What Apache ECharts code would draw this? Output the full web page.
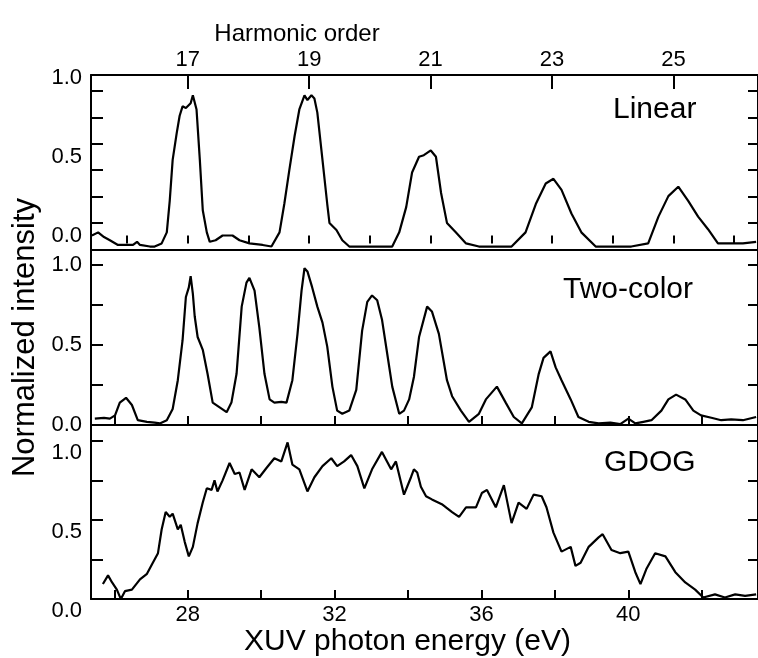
<!DOCTYPE html>
<html><head><meta charset="utf-8">
<script src="https://cdn.jsdelivr.net/npm/echarts@6/dist/echarts.min.js"></script>
<style>html,body{margin:0;padding:0;background:#fff}#c{width:758px;height:658px}</style>
</head><body><div id="c"></div><script>
// ---- data ----
const energyLinear = [25.39,25.56,25.72,25.88,26.10,26.29,26.51,26.62,26.70,26.97,27.10,27.29,27.43,27.51,27.59,27.70,27.78,27.86,27.95,28.00,28.08,28.14,28.24,28.33,28.41,28.52,28.60,28.76,28.95,29.10,29.22,29.41,29.68,30.04,30.28,30.50,30.63,30.77,30.91,31.04,31.18,31.26,31.37,31.45,31.53,31.67,31.80,31.86,32.05,32.21,32.40,32.75,33.16,33.57,33.76,33.95,34.11,34.30,34.43,34.62,34.76,34.90,35.06,35.30,35.58,35.93,36.39,36.82,37.20,37.48,37.75,37.96,38.18,38.45,38.72,39.11,39.59,40.08,40.54,40.82,41.09,41.36,41.63,41.90,42.17,42.44,42.80,43.12,43.48];
const valuesLinear = [0.00,0.02,-0.01,-0.03,-0.06,-0.06,-0.06,-0.04,-0.06,-0.07,-0.07,-0.05,0.02,0.22,0.48,0.65,0.76,0.82,0.81,0.80,0.84,0.89,0.80,0.48,0.16,0.02,-0.04,-0.03,0.00,0.00,0.00,-0.03,-0.05,-0.06,-0.07,0.02,0.20,0.42,0.63,0.80,0.89,0.86,0.89,0.87,0.78,0.48,0.20,0.08,0.035,-0.03,-0.07,-0.07,-0.07,-0.07,0.02,0.18,0.40,0.50,0.51,0.54,0.50,0.27,0.08,0.02,-0.05,-0.07,-0.07,-0.07,0.02,0.20,0.33,0.36,0.29,0.14,0.02,-0.07,-0.07,-0.07,-0.05,0.12,0.25,0.31,0.22,0.12,0.04,-0.05,-0.05,-0.05,-0.04];

const energyTwoColor = [25.47,25.72,25.88,26.02,26.15,26.32,26.48,26.64,26.89,27.10,27.24,27.43,27.59,27.73,27.86,27.95,28.03,28.08,28.14,28.19,28.27,28.41,28.54,28.68,28.87,29.06,29.19,29.33,29.47,29.60,29.68,29.82,29.95,30.09,30.23,30.36,30.55,30.69,30.85,30.99,31.10,31.18,31.26,31.39,31.53,31.67,31.80,31.94,32.07,32.21,32.40,32.59,32.75,32.89,33.02,33.16,33.29,33.43,33.57,33.76,33.89,34.03,34.16,34.30,34.52,34.65,34.84,35.06,35.20,35.44,35.66,35.93,36.12,36.42,36.66,36.88,37.10,37.37,37.56,37.69,37.88,38.02,38.18,38.43,38.64,38.92,39.19,39.51,39.78,40.00,40.19,40.41,40.63,40.90,41.09,41.30,41.55,41.77,41.98,42.26,42.53,42.80,43.12,43.48];
const valuesTwoColor = [0.04,0.045,0.04,0.06,0.14,0.17,0.125,0.03,0.02,0.015,0.01,0.03,0.10,0.28,0.53,0.80,0.86,0.93,0.82,0.68,0.55,0.47,0.32,0.14,0.11,0.08,0.14,0.32,0.74,0.89,0.92,0.84,0.61,0.32,0.16,0.14,0.145,0.14,0.28,0.57,0.84,0.98,0.96,0.86,0.74,0.64,0.49,0.24,0.09,0.07,0.09,0.22,0.59,0.77,0.81,0.78,0.66,0.45,0.24,0.07,0.09,0.16,0.30,0.55,0.74,0.71,0.57,0.28,0.18,0.09,0.02,0.07,0.16,0.24,0.14,0.05,0.01,0.11,0.32,0.42,0.46,0.36,0.28,0.16,0.05,0.02,0.01,0.015,0.005,0.04,0.01,0.02,0.03,0.09,0.16,0.19,0.16,0.09,0.06,0.045,0.03,0.035,0.03,0.05];

const energyGDOG = [25.69,25.83,25.94,26.07,26.18,26.29,26.48,26.70,26.89,27.05,27.19,27.29,27.40,27.51,27.59,27.73,27.81,27.92,28.03,28.14,28.27,28.41,28.52,28.65,28.73,28.81,28.95,29.14,29.28,29.41,29.55,29.74,29.95,30.15,30.36,30.55,30.72,30.85,31.04,31.26,31.45,31.67,31.91,32.07,32.26,32.45,32.62,32.81,33.02,33.29,33.54,33.67,33.89,34.08,34.16,34.25,34.35,34.49,34.65,34.92,35.20,35.39,35.58,35.85,36.01,36.15,36.39,36.61,36.82,37.01,37.23,37.42,37.64,37.77,37.96,38.18,38.43,38.56,38.70,38.92,39.19,39.30,39.54,39.78,40.00,40.19,40.33,40.49,40.73,41.01,41.28,41.55,41.82,42.04,42.36,42.63,42.91,43.18,43.48];
const valuesGDOG = [0.095,0.15,0.105,0.06,0.00,0.05,0.06,0.125,0.16,0.23,0.29,0.44,0.55,0.52,0.54,0.44,0.47,0.36,0.27,0.33,0.48,0.61,0.70,0.69,0.75,0.68,0.75,0.86,0.79,0.80,0.69,0.82,0.77,0.83,0.89,0.87,0.99,0.85,0.82,0.68,0.77,0.84,0.89,0.84,0.87,0.91,0.84,0.70,0.82,0.93,0.82,0.87,0.66,0.77,0.82,0.80,0.71,0.65,0.63,0.60,0.55,0.52,0.58,0.58,0.67,0.69,0.58,0.72,0.48,0.61,0.57,0.66,0.65,0.58,0.42,0.30,0.33,0.21,0.23,0.33,0.39,0.41,0.31,0.29,0.30,0.17,0.095,0.19,0.29,0.27,0.17,0.105,0.06,0.01,0.03,0.01,0.03,0.02,0.03];

const panelNames = ['Linear', 'Two-color', 'GDOG'];
const energyTicks = [26,28,30,32,34,36,38,40,42];
const energyLabels = [28,32,36,40];
const harmonicLabels = [17,19,21,23,25];
const harmonicTicks = [16,17,18,19,20,21,22,23,24,25,26];
const yLabels = [0, 0.5, 1.0];
const yTicksLinear = [0.08,0.245,0.415,0.585,0.75,0.92];
const yTicks = [0.25,0.5,0.75,1.0];

// ---- layout ----
const FONT = '"Liberation Sans", Arial, Helvetica, sans-serif';
const E_MIN = 25.366, E_MAX = 43.531;
const H_MIN = 15.407, H_MAX = 26.392;
const zip = (xs, ys) => xs.map((x, i) => [x, ys[i]]);
const lineStyle = {color:'#000', width:2};

function eAxis(grid, ticks, labels, extra) {
  return Object.assign({
    type:'value', gridIndex:grid, position:'bottom', min:E_MIN, max:E_MAX,
    axisLine:{show:true, onZero:false, lineStyle},
    axisTick:{show:!!ticks, inside:true, length:9, customValues:ticks || [], lineStyle},
    axisLabel:{show:!!labels, customValues:labels || [], margin:5, fontSize:22, color:'#000', fontFamily:FONT},
    splitLine:{show:false}
  }, extra || {});
}
function yAx(grid, pos, min, max, ticks, showLabels, labelExtra, extra) {
  return Object.assign({
    type:'value', gridIndex:grid, position:pos, min, max,
    axisLine:{show:true, onZero:false, lineStyle},
    axisTick:{show:true, inside:true, length: pos === 'left' ? 12 : 10, customValues:ticks, lineStyle},
    axisLabel:Object.assign({show:showLabels, customValues:yLabels, margin:9, fontSize:22, color:'#000', fontFamily:FONT,
      formatter: v => v.toFixed(1)}, labelExtra || {}),
    splitLine:{show:false}
  }, extra || {});
}

const option = {
  animation:false,
  backgroundColor:'#fff',
  grid:[
    {left:91, right:-2, top:75, height:175},
    {left:91, right:-2, top:250, height:175},
    {left:91, right:-2, top:425, height:175}
  ],
  xAxis:[
    eAxis(0, null, null),
    {type:'value', gridIndex:0, position:'top', min:H_MIN, max:H_MAX,
     axisLine:{show:true, onZero:false, lineStyle},
     axisTick:{show:true, inside:true, length:14, customValues:harmonicLabels, lineStyle},
     axisLabel:{show:true, customValues:harmonicLabels, margin:4, fontSize:22, color:'#000', fontFamily:FONT},
     splitLine:{show:false},
     name:'Harmonic order', nameLocation:'middle', nameGap:29,
     nameTextStyle:{fontSize:24, color:'#000', fontFamily:FONT, padding:[0,255,0,0]}},
    {type:'value', gridIndex:0, position:'top', min:H_MIN, max:H_MAX,
     axisLine:{show:false},
     axisTick:{show:true, inside:true, length:8, customValues:harmonicTicks, lineStyle},
     axisLabel:{show:false}, splitLine:{show:false}},
    eAxis(1, energyTicks, null),
    eAxis(2, energyTicks, energyLabels, {
      name:'XUV photon energy (eV)', nameLocation:'middle', nameGap:26,
      nameTextStyle:{fontSize:30, color:'#000', fontFamily:FONT, padding:[0,34,0,0], verticalAlign:'top'}
    })
  ],
  yAxis:[
    yAx(0, 'left', -0.092, 1.019, yTicksLinear, true),
    yAx(0, 'right', -0.092, 1.019, yTicksLinear, false),
    yAx(1, 'left', 0, 1.094, yTicks, true, null, {
      name:'Normalized intensity', nameLocation:'middle', nameGap:44,
      nameTextStyle:{fontSize:31, color:'#000', fontFamily:FONT}
    }),
    yAx(1, 'right', 0, 1.094, yTicks, false),
    yAx(2, 'left', 0, 1.10, yTicks, true, {verticalAlign:'top', padding:[1,0,0,0]}),
    yAx(2, 'right', 0, 1.10, yTicks, false)
  ],
  graphic:[
    {type:'text', x:613, y:110, style:{text:panelNames[0], font:'30px ' + FONT, fill:'#000', verticalAlign:'middle', align:'left'}},
    {type:'text', x:563, y:290, style:{text:panelNames[1], font:'30px ' + FONT, fill:'#000', verticalAlign:'middle', align:'left'}},
    {type:'text', x:604, y:463, style:{text:panelNames[2], font:'30px ' + FONT, fill:'#000', verticalAlign:'middle', align:'left'}}
  ],
  series:[
    {name:panelNames[0], type:'line', xAxisIndex:0, yAxisIndex:0, data:zip(energyLinear, valuesLinear),
     showSymbol:false, lineStyle:{color:'#000', width:2.2}, clip:true},
    {name:panelNames[1], type:'line', xAxisIndex:3, yAxisIndex:2, data:zip(energyTwoColor, valuesTwoColor),
     showSymbol:false, lineStyle:{color:'#000', width:2.2}, clip:true},
    {name:panelNames[2], type:'line', xAxisIndex:4, yAxisIndex:4, data:zip(energyGDOG, valuesGDOG),
     showSymbol:false, lineStyle:{color:'#000', width:2.2}, clip:true}
  ]
};
const chart = echarts.init(document.getElementById('c'), null, {renderer:'canvas'});
chart.setOption(option);
</script></body></html>
